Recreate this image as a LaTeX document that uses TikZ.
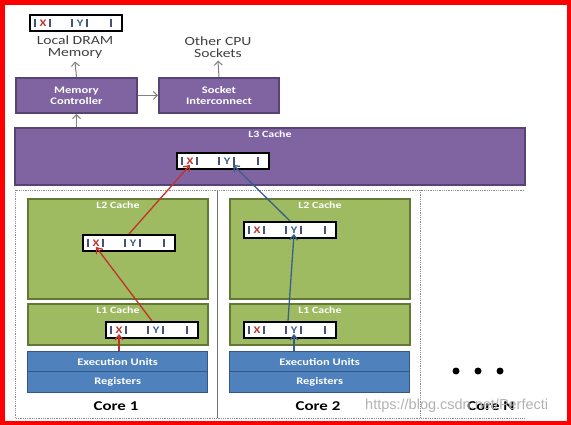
\documentclass[tikz,border=0pt]{standalone}
\usepackage{fontspec}
\setmainfont{Carlito}[FakeStretch=1.25]
\newfontfamily\markfont{Liberation Sans}
\usepackage{tikz}
\usetikzlibrary{arrows.meta}

\definecolor{cpupurple}{RGB}{128,100,162}
\definecolor{cpupurpledark}{RGB}{88,68,116}
\definecolor{cachegreen}{RGB}{158,187,98}
\definecolor{cachegreendark}{RGB}{98,120,52}
\definecolor{coreblue}{RGB}{79,129,189}
\definecolor{corebluedark}{RGB}{52,88,132}
\definecolor{barcol}{RGB}{70,80,120}
\definecolor{hitred}{RGB}{192,50,42}
\definecolor{hitblue}{RGB}{58,94,140}

\tikzset{
	unit/.style={draw, line width=2pt, anchor=north west, inner sep=0pt, text=white,
		font=\bfseries\fontsize{10}{11}\selectfont, align=center},
	purplebox/.style={unit, fill=cpupurple, draw=cpupurpledark},
	greenbox/.style={unit, fill=cachegreen, draw=cachegreendark},
	bluebox/.style={unit, fill=coreblue, draw=corebluedark, line width=1.3pt},
	boxtitle/.style={below, text=white, inner sep=4pt, font=\bfseries\fontsize{9.5}{11}\selectfont},
	cacheline/.style={draw=black, line width=2pt, fill=white, anchor=north west,
		minimum width=92pt, minimum height=16pt, inner sep=0pt},
	xmark/.style={text=hitred, inner sep=0.5pt, font=\bfseries\fontsize{10}{11}\selectfont},
	ymark/.style={text=hitblue, inner sep=0.5pt, font=\bfseries\fontsize{10}{11}\selectfont},
	outside/.style={text=black!75, align=center, inner sep=3pt, font=\fontsize{12.5}{12}\selectfont},
	corelabel/.style={font=\bfseries\fontsize{13.5}{14}\selectfont},
	sysarrow/.style={-{Straight Barb[length=4pt,width=8pt]}, draw=black!50, line width=1pt},
	redflow/.style={-{Straight Barb[length=5pt,width=8pt]}, draw=hitred, line width=1.3pt},
	blueflow/.style={-{Straight Barb[length=5pt,width=8pt]}, draw=hitblue, line width=1.3pt},
}

\newcommand{\cacheline}[3]{%
	\node[cacheline] (#1) at (#2,#3) {};
	\foreach \dx in {6,21,43,58,82}
		\draw[barcol, line width=1.2pt] ([xshift=\dx pt, yshift=4pt]#1.west) -- ([xshift=\dx pt, yshift=-4pt]#1.west);
	\node[xmark] (#1x) at ([xshift=14pt]#1.west) {X};
	\node[ymark] (#1y) at ([xshift=51pt]#1.west) {Y};
}

\begin{document}
\begin{tikzpicture}[x=1pt,y=-1pt]
	\useasboundingbox (0,0) rectangle (571,425);
	\fill[white] (0,0) rectangle (571,425);

	\cacheline{dram}{29}{14}
	\node[outside] (dramtext) at (75,47) {Local DRAM\\Memory};
	\node[outside] (socktext) at (218,47) {Other CPU\\Sockets};

	\node[purplebox, minimum width=121pt, minimum height=35pt] (memctrl) at (15,77) {Memory\\Controller};
	\node[purplebox, minimum width=120pt, minimum height=35pt] (sockint) at (158,77) {Socket\\Interconnect};
	\node[purplebox, minimum width=510pt, minimum height=57pt] (l3) at (14,127) {};
	\node[boxtitle] (l3title) at (l3.north) {L3 Cache};
	\cacheline{l3line}{176}{152}

	\draw[sysarrow] (memctrl.north) -- (dramtext.south);
	\draw[sysarrow] (sockint.north) -- (socktext.south);
	\draw[sysarrow] (memctrl.east) -- (sockint.west);
	\draw[sysarrow] (l3.north -| memctrl.south) -- (memctrl.south);

	\draw[black!45, densely dotted, line width=0.8pt] (524,190) -- (15,190) -- (15,418) -- (524,418);
	\draw[black!55, line width=0.8pt] (217,190) -- (217,418);
	\draw[black!45, densely dotted, line width=0.8pt] (420,190) -- (420,418);

	\node[greenbox, minimum width=180pt, minimum height=100pt] (l2one) at (27,198) {};
	\node[boxtitle] (l2onetitle) at (l2one.north) {L2 Cache};
	\node[greenbox, minimum width=180pt, minimum height=41pt] (l1one) at (27,303) {};
	\node[boxtitle] (l1onetitle) at (l1one.north) {L1 Cache};
	\node[bluebox, minimum width=180pt, minimum height=20pt] (execone) at (27,351) {Execution Units};
	\node[bluebox, minimum width=180pt, minimum height=21pt] (regone) at (27,371) {Registers};
	\node[corelabel] (coreone) at (116,406) {Core 1};
	\cacheline{l2a}{82}{234}
	\cacheline{l1a}{105}{321}

	\node[greenbox, minimum width=180pt, minimum height=100pt] (l2two) at (229,198) {};
	\node[boxtitle] (l2twotitle) at (l2two.north) {L2 Cache};
	\node[greenbox, minimum width=180pt, minimum height=41pt] (l1two) at (229,303) {};
	\node[boxtitle] (l1twotitle) at (l1two.north) {L1 Cache};
	\node[bluebox, minimum width=180pt, minimum height=20pt] (exectwo) at (229,351) {Execution Units};
	\node[bluebox, minimum width=180pt, minimum height=21pt] (regtwo) at (229,371) {Registers};
	\node[corelabel] (coretwo) at (318,406) {Core 2};
	\cacheline{l2b}{243}{221}
	\cacheline{l1b}{243}{321}

	\foreach \cx in {456,478,500}
		\fill (\cx,371) circle (3.5);
	\node[corelabel] (coren) at (491,406) {Core N};

	\draw[redflow] (execone.north -| l1ax) -- (l1ax.south);
	\draw[redflow] (l1a.north) -- (l2ax.south);
	\draw[redflow] (l2a.north) -- (l3linex.south);
	\draw[blueflow] (exectwo.north -| l1by) -- (l1by.south);
	\draw[blueflow] ([xshift=-6pt]l1b.north -| l1by) -- (l2by.south);
	\draw[blueflow] (l2b.north) -- ([xshift=6pt]l3liney.south);

	\node[anchor=west, text=black!30, inner sep=0pt, font=\markfont\fontsize{14.5}{15}\selectfont] (watermark) at (365,406) {https://blog.csdn.net/Perfecti};
	\draw[red, line width=4.5pt] (2.25,2.5) rectangle (568.75,422.75);
\end{tikzpicture}
\end{document}
